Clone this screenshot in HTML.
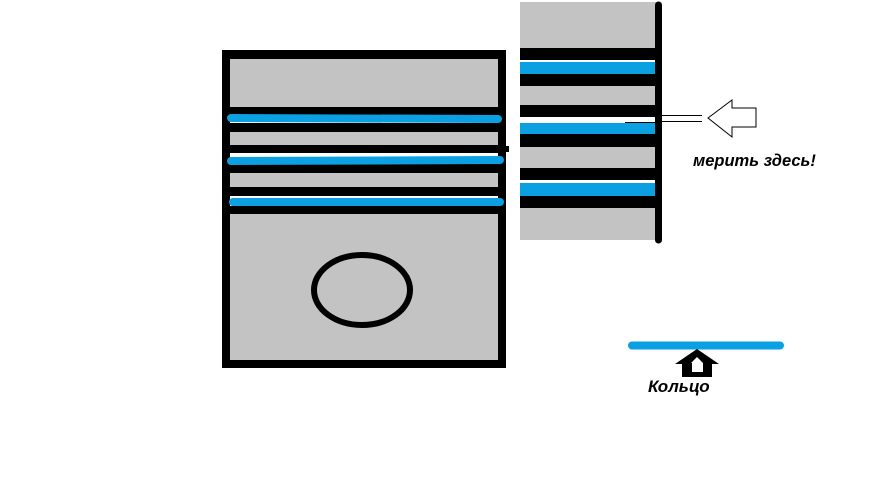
<!DOCTYPE html>
<html><head><meta charset="utf-8"><style>
html,body{margin:0;padding:0;background:#fff;width:875px;height:501px;overflow:hidden}
</style></head><body>
<svg width="875" height="501" viewBox="0 0 875 501" xmlns="http://www.w3.org/2000/svg">
<rect x="0" y="0" width="875" height="501" fill="#fff"/>
<!-- piston -->
<rect x="222" y="50" width="284" height="318" fill="#000"/>
<rect x="230" y="59" width="268" height="48" fill="#c3c3c3"/>
<rect x="230" y="115" width="268" height="8" fill="#fff"/>
<rect x="230" y="132" width="268" height="13" fill="#c3c3c3"/>
<rect x="230" y="153" width="268" height="11" fill="#fff"/>
<rect x="230" y="173" width="268" height="14" fill="#c3c3c3"/>
<rect x="230" y="196" width="268" height="10" fill="#fff"/>
<rect x="230" y="214" width="268" height="146" fill="#c3c3c3"/>
<line x1="231" y1="118" x2="498" y2="119" stroke="#0aa0e2" stroke-width="8" stroke-linecap="round"/>
<line x1="231" y1="161" x2="500" y2="160" stroke="#0aa0e2" stroke-width="8" stroke-linecap="round"/>
<line x1="233" y1="202" x2="500" y2="202" stroke="#0aa0e2" stroke-width="8" stroke-linecap="round"/>
<rect x="500" y="146" width="9" height="6" fill="#000"/>
<ellipse cx="362" cy="290" rx="48" ry="35" fill="none" stroke="#000" stroke-width="6"/>
<!-- right panel -->
<rect x="520" y="2" width="136" height="238" fill="#c3c3c3"/>
<rect x="520" y="48" width="136" height="12" fill="#000"/>
<rect x="520" y="60" width="136" height="2" fill="#fff"/>
<rect x="520" y="62" width="136" height="12" fill="#0aa0e2"/>
<rect x="520" y="74" width="136" height="12" fill="#000"/>
<rect x="520" y="105" width="136" height="12" fill="#000"/>
<rect x="520" y="117" width="136" height="6" fill="#fff"/>
<rect x="520" y="123" width="136" height="11" fill="#0aa0e2"/>
<rect x="520" y="134" width="136" height="13" fill="#000"/>
<rect x="520" y="168" width="136" height="12" fill="#000"/>
<rect x="520" y="180" width="136" height="3" fill="#fff"/>
<rect x="520" y="183" width="136" height="13" fill="#0aa0e2"/>
<rect x="520" y="196" width="136" height="12" fill="#000"/>
<line x1="625" y1="122.5" x2="656" y2="122.5" stroke="#000" stroke-width="1"/>
<line x1="658.5" y1="5" x2="658.5" y2="240" stroke="#000" stroke-width="7" stroke-linecap="round"/>
<!-- measuring arrow -->
<line x1="662" y1="115.5" x2="702" y2="115.5" stroke="#000" stroke-width="1"/>
<line x1="662" y1="121.5" x2="702" y2="121.5" stroke="#000" stroke-width="1"/>
<polygon points="708,118 732,100 732,108 756,108 756,127 732,127 732,137" fill="#fff" stroke="#000" stroke-width="1"/>
<text x="693" y="166" font-family="Liberation Sans, sans-serif" font-size="16.5" font-weight="bold" font-style="italic" fill="#000">мерить здесь!</text>
<!-- ring -->
<line x1="632" y1="345.5" x2="780" y2="345.5" stroke="#0aa0e2" stroke-width="8" stroke-linecap="round"/>
<polygon points="697,349 719,364 712,364 712,377 682,377 682,364 675,364" fill="#000"/>
<rect x="692" y="363" width="11" height="9" fill="#fff"/>
<polygon points="697,357 703,363 691,363" fill="#fff"/>
<text x="648" y="392" font-family="Liberation Sans, sans-serif" font-size="17" font-weight="bold" font-style="italic" fill="#000">Кольцо</text>
</svg>
</body></html>
